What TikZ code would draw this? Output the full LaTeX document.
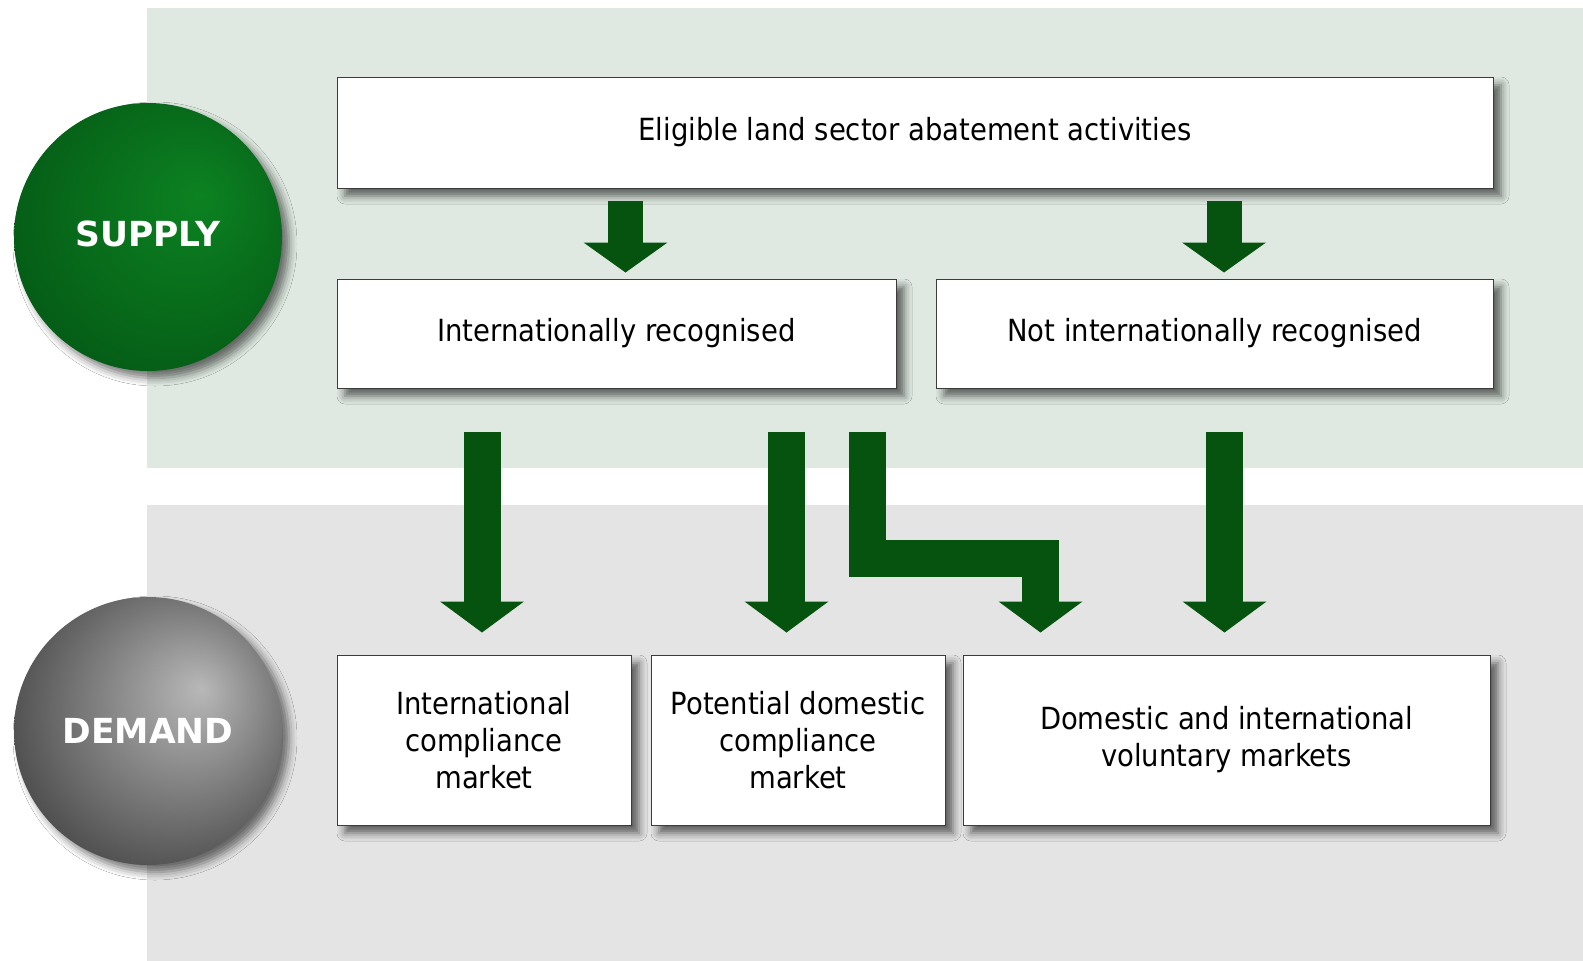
\documentclass[tikz,border=0pt]{standalone}
\usepackage{fontspec}
\setmainfont{DejaVu Sans Condensed}
\newfontfamily\ballfont{DejaVu Sans}
\usetikzlibrary{positioning,arrows.meta,shadows.blur}

\definecolor{SupplyBand}{RGB}{223,233,225}
\definecolor{DemandBand}{RGB}{228,228,228}
\definecolor{ArrowGreen}{RGB}{6,83,16}
\definecolor{BoxLine}{RGB}{60,60,60}
\definecolor{SupplyLight}{RGB}{12,130,34}
\definecolor{SupplyDark}{RGB}{5,92,22}
\definecolor{DemandLight}{RGB}{184,184,184}
\definecolor{DemandDark}{RGB}{70,70,70}

\pgfdeclareradialshading{SupplyBall}{\pgfpoint{10bp}{8bp}}{color(0bp)=(SupplyLight); color(31bp)=(SupplyDark); color(50bp)=(SupplyDark)}
\pgfdeclareradialshading{DemandBall}{\pgfpoint{10bp}{8bp}}{color(0bp)=(DemandLight); color(33bp)=(DemandDark); color(50bp)=(DemandDark)}

\begin{document}
\begin{tikzpicture}[x=1pt, y=-1pt,
box/.style ={ rectangle, draw=BoxLine, fill=white, line width=1pt, inner sep=0pt,
 align=center, font=\fontsize{30.5}{37}\selectfont,
 blur shadow={shadow xshift=8pt, shadow yshift=-8pt, shadow blur radius=8pt, shadow opacity=60}},
ball/.style ={ circle, minimum size=268pt, inner sep=0pt, text=white,
 font=\ballfont\bfseries\fontsize{34.5}{40}\selectfont,
 blur shadow={shadow xshift=7pt, shadow yshift=-7pt, shadow blur radius=8pt, shadow opacity=55}},
smallarrow/.style ={ draw=ArrowGreen, line width=35pt,
 -{Triangle[width=84pt, length=30pt, line width=0pt 0]}, shorten <=12pt, shorten >=6pt},
bigarrow/.style ={ draw=ArrowGreen, line width=37pt, line join=miter,
 -{Triangle[width=84pt, length=31pt, line width=0pt 0]}, shorten <=43pt, shorten >=22pt}]

\useasboundingbox[fill=white] (0,0) rectangle (1583,961);
\fill[SupplyBand] (147,8) rectangle (1583,468);
\fill[DemandBand] (147,505) rectangle (1583,961);

\node[ball, shading=SupplyBall] (Supply) at (148,237) {\raisebox{6pt}{SUPPLY}};
\node[ball, shading=DemandBall] (Demand) at (148,731) {DEMAND};

\node[box, minimum width=1156pt, minimum height=111pt] (Activities) at (915,132.5) {Eligible land sector abatement activities};
\node[box, minimum width=559pt, minimum height=109pt] (IntlRec) at (616.5,333.5) {Internationally recognised};
\node[box, minimum width=557pt, minimum height=109pt] (NotIntlRec) at (1214.5,333.5) {Not internationally recognised};
\node[box, minimum width=294pt, minimum height=170pt] (IntlComp) at (484,740) {International\\compliance\\market};
\node[box, minimum width=294pt, minimum height=170pt] (DomComp) at (798,740) {Potential domestic\\compliance\\market};
\node[box, minimum width=527pt, minimum height=170pt] (Voluntary) at (1226.5,740) {Domestic and international\\voluntary markets};

\draw[smallarrow] (625.5,0 |- Activities.south) -- (625.5,0 |- IntlRec.north);
\draw[smallarrow] (1224,0 |- Activities.south) -- (1224,0 |- NotIntlRec.north);

\draw[bigarrow] (482,0 |- IntlRec.south) -- (482,0 |- IntlComp.north);
\draw[bigarrow] (786.5,0 |- IntlRec.south) -- (786.5,0 |- DomComp.north);
\draw[bigarrow] (867,0 |- IntlRec.south) |- (1040.5,558.5) -- (1040.5,0 |- Voluntary.north);
\draw[bigarrow] (1224.5,0 |- NotIntlRec.south) -- (1224.5,0 |- Voluntary.north);
\end{tikzpicture}
\end{document}
